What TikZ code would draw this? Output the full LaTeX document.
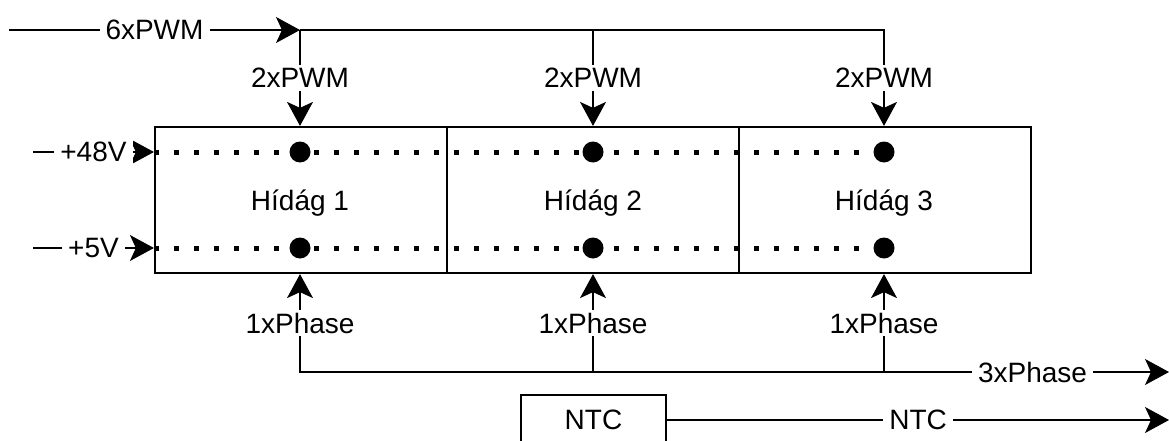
\documentclass[tikz,border=0pt]{standalone}
\usepackage{fontspec}
\setmainfont{Liberation Sans}
\usetikzlibrary{arrows.meta}
\tikzset{
  every node/.style={font=\fontsize{28pt}{33pt}\selectfont},
  ln/.style={line width=2.2pt},
  tip/.tip={Stealth[length=24pt,width=26pt,inset=6pt,fill=black,line width=1pt]},
  arr/.style={ln,-tip},
  arrboth/.style={ln,tip-tip},
  lbl/.style={fill=white,inner xsep=6pt,inner ysep=3pt},
  bridge/.style={draw,ln,minimum width=292pt,minimum height=146pt,inner sep=0pt},
  dot/.style={circle,fill=black,minimum size=21pt,inner sep=0pt},
  dotline/.style={line width=5pt,dash pattern=on 5pt off 15pt},
  ntcbox/.style={draw,ln,minimum width=145pt,minimum height=50pt,inner sep=0pt}
}
\begin{document}
\begin{tikzpicture}[x=1pt,y=1pt]
\useasboundingbox (0,0) rectangle (1169,440);
\clip (0,0) rectangle (1169,440);
% bridge boxes
\node[bridge] (h1) at (301,240) {};
\node[bridge] (h2) at (593,240) {};
\node[bridge] (h3) at (885,240) {};
\node at (300,237) (l1) {Hídág 1};
\node at (593,237) (l2) {Hídág 2};
\node at (884,237) (l3) {Hídág 3};
% dots
\coordinate (t1) at (300,288);
\coordinate (t2) at (593,288);
\coordinate (t3) at (884,288);
\coordinate (u1) at (300,192);
\coordinate (u2) at (593,192);
\coordinate (u3) at (884,192);
% dotted rails
\draw[dotline] (h1.west |- t1) -- (t3);
\draw[dotline] (h1.west |- u1) -- (u3);
\node[dot] (dt1) at (t1) {};
\node[dot] (dt2) at (t2) {};
\node[dot] (dt3) at (t3) {};
\node[dot] (du1) at (u1) {};
\node[dot] (du2) at (u2) {};
\node[dot] (du3) at (u3) {};
% supply inputs
\coordinate (p48) at (33,288);
\coordinate (p5) at (33,192);
\draw[arr] (p48) -- node[lbl]{+48V} (h1.west |- t1);
\draw[arr] (p5) -- node[lbl]{+5V} (h1.west |- u1);
% PWM bus
\coordinate (pin) at (9,410);
\coordinate (j1) at (300,410);
\coordinate (j2) at (593,410);
\coordinate (j3) at (884,410);
\draw[arr] (pin) -- node[lbl]{6xPWM} (j1);
\draw[arr] (j1) -- node[lbl]{2xPWM} (j1 |- h1.north);
\draw[arr] (j2) -- node[lbl]{2xPWM} (j2 |- h2.north);
\draw[arr] (j1) -- (j3) -- node[lbl]{2xPWM} (j3 |- h3.north);
% Phase bus
\coordinate (b1) at (300,68);
\coordinate (b2) at (593,68);
\coordinate (b3) at (884,68);
\coordinate (pout) at (1169,68);
\draw[arrboth] (b1 |- h1.south) -- node[lbl]{1xPhase} (b1) -- node[lbl,pos=0.843]{3xPhase} (pout);
\draw[arr] (b2) -- node[lbl]{1xPhase} (b2 |- h2.south);
\draw[arr] (b3) -- node[lbl]{1xPhase} (b3 |- h3.south);
% NTC
\node[ntcbox] (ntc) at (593.5,20) {NTC};
\coordinate (nout) at (1169,20);
\draw[arr] (ntc.east) -- node[lbl]{NTC} (nout);
\end{tikzpicture}
\end{document}
